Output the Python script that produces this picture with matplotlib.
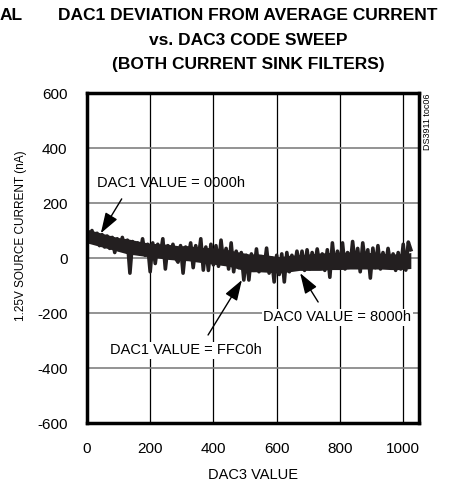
import numpy as np
import matplotlib
matplotlib.use('Agg')
import matplotlib.pyplot as plt

plt.rcParams['font.family'] = ['Liberation Sans', 'DejaVu Sans']
plt.rcParams['axes.unicode_minus'] = False

# DAC3 code sweep, one reading every 8 codes (nA)
codes = np.arange(0, 1025, 8)
current = [
    95, 60, 100, 55, 90, 45, 85, 40, 80, 35, 75, 20, 70,
    30, 75, 25, 65, -55, 60, 20, 55, 15, 70, 10, 50, -50,
    55, -20, 50, 10, 70, -40, 45, 5, 50, 0, -15, 45,
    -55, 40, 0, 55, -35, 45, -5, 70, -44, 40, -45, 50, -25,
    45, -30, 65, -20, 35, -40, 55, -50, 25, -35, 20, -80,
    10, -80, 15, -45, 33, -50, 5, -40, 36, -55, 0, -87, 10,
    -60, 15, -87, 20, -50, 10, -40, 25, -35, 25, -45, 30,
    -40, 20, -30, 33, -25, 15, -45, 30, -70, 55, -35, 25, -30,
    55, -40, 20, -30, 60, -25, 35, -50, 55, -20, 30, -73,
    36, -35, 45, -40, 20, -30, 35, -25, 15, -45, 20, -40, 50,
    -44, 58, 30,
]
# solid noise band, every 32 codes (nA)
band_codes = np.arange(0, 1025, 32)
band_top = [105, 95, 85, 75, 70, 62, 55, 52, 50, 45, 45, 40, 38, 35, 30, 22, 15,
            15, 10, 5, 10, 12, 15, 18, 20, 20, 22, 20, 20, 18, 15, 15, 20]
band_bot = [55, 45, 35, 25, 15, 10, 5, 0, -5, -8, -10, -15, -20, -25, -30, -40, -50,
            -50, -52, -55, -50, -45, -45, -45, -42, -42, -40, -40, -40, -40, -42, -42, -38]
xticks = [0, 200, 400, 600, 800, 1000]
yticks = [-600, -400, -200, 0, 200, 400, 600]

fig = plt.figure(figsize=(4.55, 4.82), dpi=100)
ax = fig.add_axes([0.191, 0.1224, 0.730, 0.6846])

for x in xticks[1:]:
    ax.axvline(x, color='black', lw=0.9, zorder=1)
for y in yticks[1:-1]:
    ax.axhline(y, color='#808080', lw=1.2, zorder=1)

ax.fill_between(band_codes, band_bot, band_top, color='#231f20', lw=0, zorder=3)
ax.plot(codes, current, color='#231f20', lw=2.6, zorder=3)

ax.set_xlim(0, 1050)
ax.set_ylim(-600, 600)
ax.set_xticks(xticks)
ax.set_yticks(yticks)
ax.tick_params(length=0, labelsize=11)
ax.tick_params(axis='x', pad=14)
ax.tick_params(axis='y', pad=14)
for s in ax.spines.values():
    s.set_linewidth(2.5)
    s.set_zorder(6)

ax.set_xlabel('DAC3 VALUE', fontsize=10.5, labelpad=8)
ax.set_ylabel('1.25V SOURCE CURRENT (nA)', fontsize=8.5)
ax.yaxis.set_label_coords(-0.18, 0.567)

arrow = dict(arrowstyle='-|>,head_length=0.9,head_width=0.3', color='black', lw=1.0,
             mutation_scale=14, shrinkA=0, shrinkB=0)
ax.text(32, 273, 'DAC1 VALUE = 0000h', fontsize=10.5, va='center', ha='left', zorder=5)
ax.annotate('', xy=(44, 90), xytext=(110, 215), arrowprops=arrow, zorder=5)
ax.text(557, -215, 'DAC0 VALUE = 8000h', fontsize=10.5, va='center', ha='left',
        bbox=dict(facecolor='white', edgecolor='none', pad=1), zorder=5)
ax.annotate('', xy=(674, -55), xytext=(731, -160), arrowprops=arrow, zorder=5)
ax.text(73, -335, 'DAC1 VALUE = FFC0h', fontsize=10.5, va='center', ha='left',
        bbox=dict(facecolor='white', edgecolor='none', pad=1), zorder=5)
ax.annotate('', xy=(490, -80), xytext=(383, -280), arrowprops=arrow, zorder=5)

fig.text(0.939, 0.807, 'DS3911 toc06', rotation=90, fontsize=6.5, ha='center', va='top')

title_lines = ['DAC1 DEVIATION FROM AVERAGE CURRENT', 'vs. DAC3 CODE SWEEP',
               '(BOTH CURRENT SINK FILTERS)']
for i, line in enumerate(title_lines):
    fig.text(248 / 455, 1 - (16 + 24.5 * i) / 482, line, fontsize=12.5,
             fontweight='bold', ha='center', va='center')
fig.text(0.0, 1 - 16 / 482, 'AL', fontsize=12.5, fontweight='bold', ha='left', va='center')

fig.savefig('out.png', dpi=100)
